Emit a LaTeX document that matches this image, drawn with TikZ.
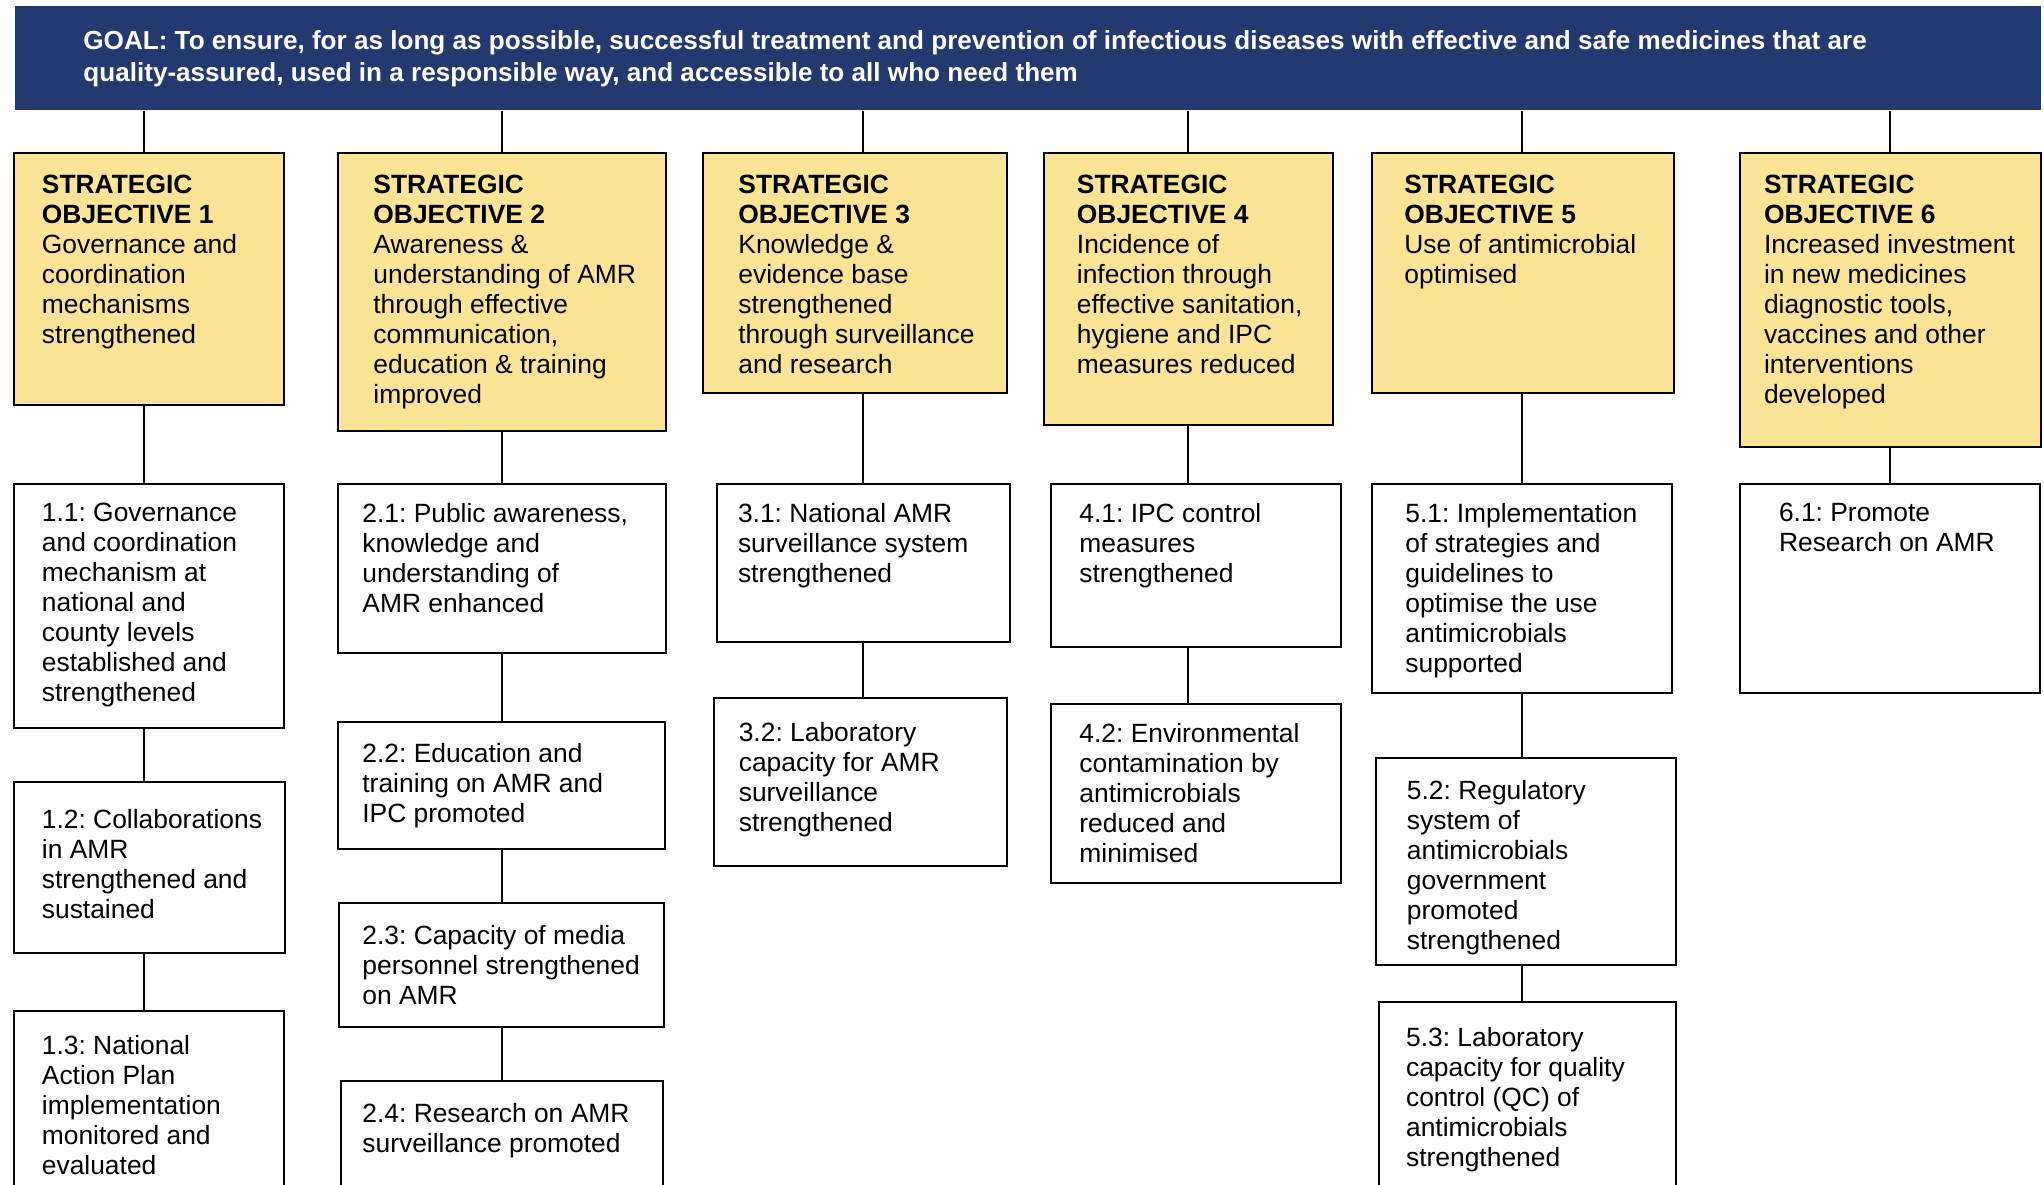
\documentclass[tikz,border=0pt]{standalone}
\usepackage{fontspec}
\setmainfont{Liberation Sans}
\usetikzlibrary{positioning}
\definecolor{goalblue}{RGB}{34,58,112}
\definecolor{soyellow}{RGB}{252,228,150}
\frenchspacing

\begin{document}
\begin{tikzpicture}[x=1pt,y=1pt,
  box/.style={draw=black, line width=1pt, anchor=north west, inner sep=0pt},
  sobox/.style={box, fill=soyellow},
  txt/.style={align=left, inner sep=0pt, font=\fontsize{13.2}{15}\selectfont},
  link/.style={line width=1pt}]
\useasboundingbox (0,0) rectangle (1022,-592);
\clip (0,0) rectangle (1022,-592);
\fill[white] (0,0) rectangle (1022,-592);
\node[anchor=north west, fill=goalblue, inner sep=0pt, minimum width=1013pt, minimum height=52pt] (goal) at (7.5,-3) {};
\node[txt, font=\bfseries\fontsize{13.05}{16}\selectfont, text=white, below right=12pt and 34pt of goal.north west] (goaltxt) {GOAL: To ensure, for as long as possible, successful treatment and prevention of infectious diseases with effective and safe medicines that are\\quality-assured, used in a responsible way, and accessible to all who need them};
\node[sobox, minimum width=135pt, minimum height=126pt] (so1) at (6.25,-76) {};
\node[sobox, minimum width=164pt, minimum height=139pt] (so2) at (168.5,-76) {};
\node[sobox, minimum width=152pt, minimum height=120pt] (so3) at (351,-76) {};
\node[sobox, minimum width=144.75pt, minimum height=136pt] (so4) at (521.25,-76) {};
\node[sobox, minimum width=151pt, minimum height=120pt] (so5) at (685.5,-76) {};
\node[sobox, minimum width=150.7pt, minimum height=147pt] (so6) at (869.3,-76) {};
\node[txt, below right=11.5pt and 14.5pt of so1.north west] (so1t) {\textbf{STRATEGIC}\\\textbf{OBJECTIVE 1}\\Governance and\\coordination\\mechanisms\\strengthened};
\node[txt, below right=11.5pt and 18pt of so2.north west] (so2t) {\textbf{STRATEGIC}\\\textbf{OBJECTIVE 2}\\Awareness \&\\understanding of AMR\\through effective\\communication,\\education \& training\\improved};
\node[txt, below right=11.5pt and 18pt of so3.north west] (so3t) {\textbf{STRATEGIC}\\\textbf{OBJECTIVE 3}\\Knowledge \&\\evidence base\\strengthened\\through surveillance\\and research};
\node[txt, below right=11.5pt and 17pt of so4.north west] (so4t) {\textbf{STRATEGIC}\\\textbf{OBJECTIVE 4}\\Incidence of\\infection through\\effective sanitation,\\hygiene and IPC\\measures reduced};
\node[txt, below right=11.5pt and 16.5pt of so5.north west] (so5t) {\textbf{STRATEGIC}\\\textbf{OBJECTIVE 5}\\Use of antimicrobial\\optimised};
\node[txt, below right=11.5pt and 12.5pt of so6.north west] (so6t) {\textbf{STRATEGIC}\\\textbf{OBJECTIVE 6}\\Increased investment\\in new medicines\\diagnostic tools,\\vaccines and other\\interventions\\developed};
\node[box, minimum width=135pt, minimum height=122pt] (s11) at (6.25,-241.5) {};
\node[box, minimum width=135.5pt, minimum height=85.5pt] (s12) at (6.25,-390.5) {};
\node[box, minimum width=135pt, minimum height=95pt] (s13) at (6.25,-505) {};
\node[box, minimum width=164pt, minimum height=84.5pt] (s21) at (168.5,-241.5) {};
\node[box, minimum width=163.5pt, minimum height=63.5pt] (s22) at (168.5,-360.5) {};
\node[box, minimum width=162.5pt, minimum height=62pt] (s23) at (169,-451) {};
\node[box, minimum width=160.8pt, minimum height=60pt] (s24) at (170,-540) {};
\node[box, minimum width=146.5pt, minimum height=79pt] (s31) at (357.8,-241.5) {};
\node[box, minimum width=146.5pt, minimum height=84pt] (s32) at (356.7,-348.5) {};
\node[box, minimum width=145pt, minimum height=81.5pt] (s41) at (525,-241.5) {};
\node[box, minimum width=145pt, minimum height=89.5pt] (s42) at (525,-351.5) {};
\node[box, minimum width=150pt, minimum height=104.5pt] (s51) at (685.5,-241.5) {};
\node[box, minimum width=150.25pt, minimum height=103.5pt] (s52) at (687.25,-378.5) {};
\node[box, minimum width=148.5pt, minimum height=99.5pt] (s53) at (688.85,-500.5) {};
\node[box, minimum width=150pt, minimum height=104.5pt] (s61) at (869.3,-241.5) {};
\node[txt, below right=10pt and 14.5pt of s11.north west] (s11t) {1.1: Governance\\and coordination\\mechanism at\\national and\\county levels\\established and\\strengthened};
\node[txt, below right=14pt and 14.5pt of s12.north west] (s12t) {1.2: Collaborations\\in AMR\\strengthened and\\sustained};
\node[txt, below right=12.5pt and 14.5pt of s13.north west] (s13t) {1.3: National\\Action Plan\\implementation\\monitored and\\evaluated};
\node[txt, below right=10pt and 12.5pt of s21.north west] (s21t) {2.1: Public awareness,\\knowledge and\\understanding of\\AMR enhanced};
\node[txt, below right=11pt and 12.5pt of s22.north west] (s22t) {2.2: Education and\\training on AMR and\\IPC promoted};
\node[txt, below right=11.5pt and 12pt of s23.north west] (s23t) {2.3: Capacity of media\\personnel strengthened\\on AMR};
\node[txt, below right=11.5pt and 11pt of s24.north west] (s24t) {2.4: Research on AMR\\surveillance promoted};
\node[txt, below right=10pt and 11pt of s31.north west] (s31t) {3.1: National AMR\\surveillance system\\strengthened};
\node[txt, below right=12.5pt and 12.5pt of s32.north west] (s32t) {3.2: Laboratory\\capacity for AMR\\surveillance\\strengthened};
\node[txt, below right=10pt and 14.5pt of s41.north west] (s41t) {4.1: IPC control\\measures\\strengthened};
\node[txt, below right=10pt and 14.5pt of s42.north west] (s42t) {4.2: Environmental\\contamination by\\antimicrobials\\reduced and\\minimised};
\node[txt, below right=10pt and 17pt of s51.north west] (s51t) {5.1: Implementation\\of strategies and\\guidelines to\\optimise the use\\antimicrobials\\supported};
\node[txt, below right=11.5pt and 16pt of s52.north west] (s52t) {5.2: Regulatory\\system of\\antimicrobials\\government\\promoted\\strengthened};
\node[txt, below right=13pt and 14pt of s53.north west] (s53t) {5.3: Laboratory\\capacity for quality\\control (QC) of\\antimicrobials\\strengthened};
\node[txt, below right=10pt and 20pt of s61.north west] (s61t) {6.1: Promote\\Research on AMR};
\coordinate (col1) at ([xshift=-2.25pt]s11.north);
\coordinate (col2) at (s21.north);
\coordinate (col3) at (s31.north);
\coordinate (col4) at ([xshift=-4pt]s41.north);
\coordinate (col5) at (s51.north);
\coordinate (col6) at (s61.north);
\draw[link] (col1 |- goal.south) -- (col1 |- so1.north);
\draw[link] (col2 |- goal.south) -- (col2 |- so2.north);
\draw[link] (col3 |- goal.south) -- (col3 |- so3.north);
\draw[link] (col4 |- goal.south) -- (col4 |- so4.north);
\draw[link] (col5 |- goal.south) -- (col5 |- so5.north);
\draw[link] (col6 |- goal.south) -- (col6 |- so6.north);
\draw[link] (col1 |- so1.south) -- (col1 |- s11.north);
\draw[link] (col1 |- s11.south) -- (col1 |- s12.north);
\draw[link] (col1 |- s12.south) -- (col1 |- s13.north);
\draw[link] (col2 |- so2.south) -- (col2 |- s21.north);
\draw[link] (col2 |- s21.south) -- (col2 |- s22.north);
\draw[link] (col2 |- s22.south) -- (col2 |- s23.north);
\draw[link] (col2 |- s23.south) -- (col2 |- s24.north);
\draw[link] (col3 |- so3.south) -- (col3 |- s31.north);
\draw[link] (col3 |- s31.south) -- (col3 |- s32.north);
\draw[link] (col4 |- so4.south) -- (col4 |- s41.north);
\draw[link] (col4 |- s41.south) -- (col4 |- s42.north);
\draw[link] (col5 |- so5.south) -- (col5 |- s51.north);
\draw[link] (col5 |- s51.south) -- (col5 |- s52.north);
\draw[link] (col5 |- s52.south) -- (col5 |- s53.north);
\draw[link] (col6 |- so6.south) -- (col6 |- s61.north);
\end{tikzpicture}
\end{document}
